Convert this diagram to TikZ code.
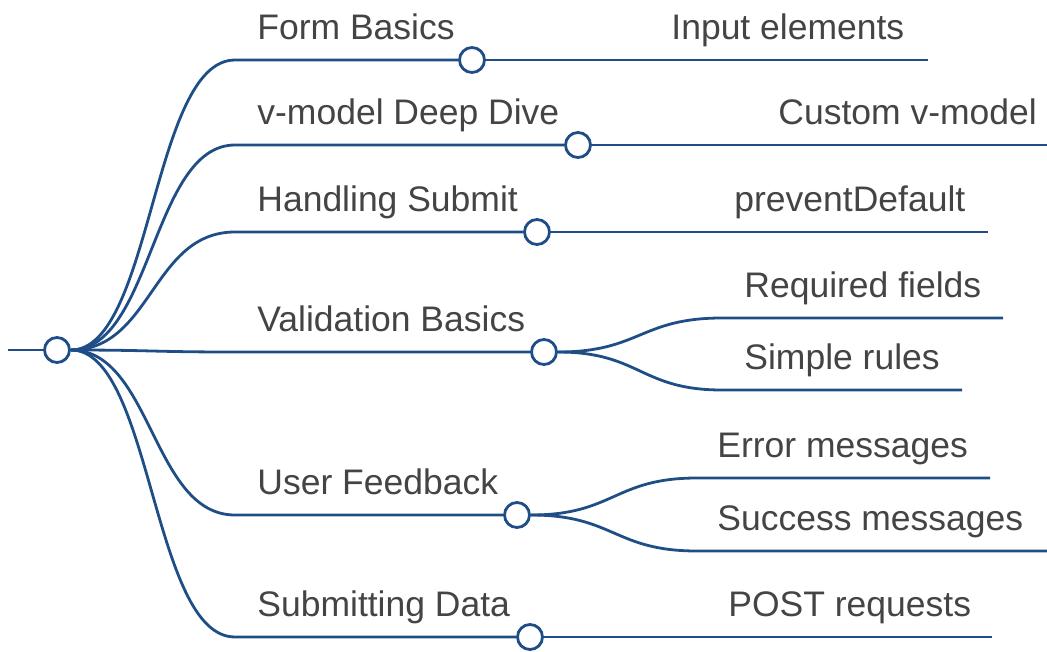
\documentclass[tikz,border=0pt]{standalone}
\usepackage{fontspec}
\setmainfont{Liberation Sans}
\definecolor{branch}{HTML}{1F4E86}
\definecolor{labelgray}{HTML}{444444}

\begin{document}
\begin{tikzpicture}[x=1pt, y=-1pt, line width=2.8pt,
    edge/.style={draw=branch},
    knot/.style={circle, draw=branch, fill=white, minimum size=25pt, inner sep=0pt},
    lbl/.style={anchor=base west, inner sep=0pt, text=labelgray,
                font=\fontsize{35.5}{40}\selectfont}]
    \useasboundingbox (0,0) rectangle (1047,651);
    % Nodes
    \coordinate (in) at (8,350);
    \node[knot] (root) at (57,350) {};
    \node[knot] (fb) at (472,60) {};
    \node[knot] (vm) at (578,145) {};
    \node[knot] (hs) at (537,232) {};
    \node[knot] (vb) at (544,352) {};
    \node[knot] (uf) at (517,515) {};
    \node[knot] (sd) at (530,637) {};
    % start and end of the underlines
    \coordinate (fb-s) at (235,60);
    \coordinate (vm-s) at (235,145);
    \coordinate (hs-s) at (235,232);
    \coordinate (vb-s) at (235,352);
    \coordinate (uf-s) at (235,515);
    \coordinate (sd-s) at (235,637);
    \coordinate (ie-e) at (928,60);
    \coordinate (cv-e) at (1047,145);
    \coordinate (pd-e) at (988,232);
    \coordinate (rf-s) at (722,318);
    \coordinate (rf-e) at (1003,318);
    \coordinate (sr-s) at (722,390);
    \coordinate (sr-e) at (962,390);
    \coordinate (em-s) at (697,478);
    \coordinate (em-e) at (990,478);
    \coordinate (sm-s) at (697,551);
    \coordinate (sm-e) at (1047,551);
    \coordinate (pr-e) at (992,637);
    % Labels
    \node[lbl] (fb-t) at (256,39) {Form Basics};
    \node[lbl] (vm-t) at (256,124) {v-model Deep Dive};
    \node[lbl] (hs-t) at (256,211) {Handling Submit};
    \node[lbl] (vb-t) at (256,331) {Validation Basics};
    \node[lbl] (uf-t) at (256,494) {User Feedback};
    \node[lbl] (sd-t) at (256,616) {Submitting Data};
    \node[lbl] (ie-t) at (670,39) {Input elements};
    \node[lbl] (cv-t) at (777,124) {Custom v-model};
    \node[lbl] (pd-t) at (733,211) {preventDefault};
    \node[lbl] (rf-t) at (743,297) {Required fields};
    \node[lbl] (sr-t) at (743,369) {Simple rules};
    \node[lbl] (em-t) at (716,457) {Error messages};
    \node[lbl] (sm-t) at (716,530) {Success messages};
    \node[lbl] (pr-t) at (727,616) {POST requests};
    % Branches from the root
    \draw[edge] (in) -- (root);
    \draw[edge] (root.east) .. controls (152,350) and (152,60) .. (fb-s) -- (fb);
    \draw[edge] (root.east) .. controls (152,350) and (152,145) .. (vm-s) -- (vm);
    \draw[edge] (root.east) .. controls (152,350) and (152,232) .. (hs-s) -- (hs);
    \draw[edge] (root.east) .. controls (152,350) and (152,352) .. (vb-s) -- (vb);
    \draw[edge] (root.east) .. controls (152,350) and (152,515) .. (uf-s) -- (uf);
    \draw[edge] (root.east) .. controls (152,350) and (152,637) .. (sd-s) -- (sd);
    % Leaves
    \draw[edge] (fb) -- (ie-e);
    \draw[edge] (vm) -- (cv-e);
    \draw[edge] (hs) -- (pd-e);
    \draw[edge] (vb.east) .. controls (640,352) and (640,318) .. (rf-s) -- (rf-e);
    \draw[edge] (vb.east) .. controls (640,352) and (640,390) .. (sr-s) -- (sr-e);
    \draw[edge] (uf.east) .. controls (614,515) and (614,478) .. (em-s) -- (em-e);
    \draw[edge] (uf.east) .. controls (614,515) and (614,551) .. (sm-s) -- (sm-e);
    \draw[edge] (sd) -- (pr-e);
\end{tikzpicture}
\end{document}
